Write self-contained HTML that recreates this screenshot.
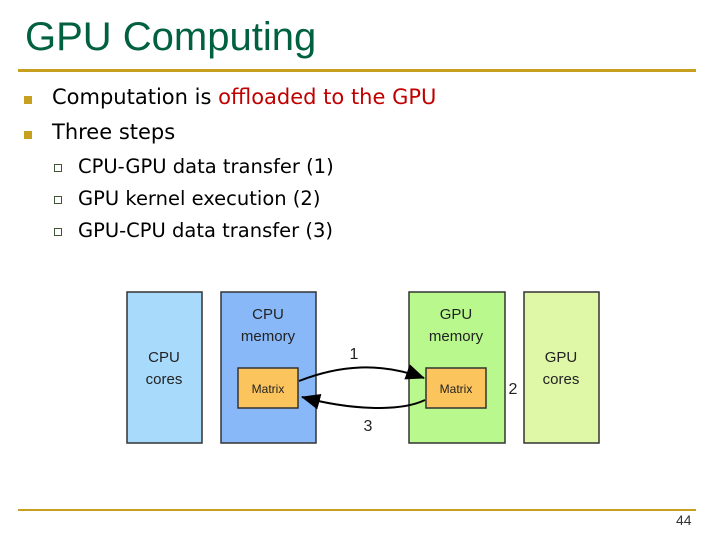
<!DOCTYPE html>
<html><head><meta charset="utf-8"><style>
body{margin:0;width:720px;height:540px;background:#fff;position:relative;overflow:hidden;font-family:"Liberation Sans",sans-serif}
.a{position:absolute;white-space:nowrap}
.t{font-family:"DejaVu Sans",sans-serif}
</style></head><body>
<div class="a" style="left:25px;top:15px;font-size:40px;color:#006040">GPU Computing</div>
<div class="a" style="left:18px;top:69px;width:678px;height:3px;background:#c8a020"></div>
<div class="a" style="left:24px;top:96px;width:8px;height:8px;background:#c8a020"></div>
<div class="a" style="left:24px;top:131px;width:8px;height:8px;background:#c8a020"></div>
<div class="a t" style="left:52px;top:85px;font-size:21px;color:#000">Computation is <span style="color:#c00000">offloaded to the GPU</span></div>
<div class="a t" style="left:52px;top:120px;font-size:21px;color:#000">Three steps</div>
<div class="a t" style="left:78px;top:151px;font-size:19.5px;line-height:32px;color:#000">CPU-GPU data transfer (1)<br>GPU kernel execution (2)<br>GPU-CPU data transfer (3)</div>
<div class="a" style="left:54px;top:164px;width:6px;height:6px;border:1px solid #405830"></div>
<div class="a" style="left:54px;top:196px;width:6px;height:6px;border:1px solid #405830"></div>
<div class="a" style="left:54px;top:228px;width:6px;height:6px;border:1px solid #405830"></div>
<svg class="a" style="left:0;top:0" width="720" height="540" font-family="Liberation Sans, sans-serif">
<defs><marker id="m2" markerWidth="20" markerHeight="16" refX="18" refY="8" orient="auto" markerUnits="userSpaceOnUse"><path d="M0,0L19,8L0,16z" fill="#000"/></marker></defs>
<g stroke="#333" stroke-width="1.5">
<rect x="127" y="292" width="75" height="151" fill="#a8dafc"/>
<rect x="221" y="292" width="95" height="151" fill="#88b8f8"/>
<rect x="409" y="292" width="96" height="151" fill="#b8f88c"/>
<rect x="524" y="292" width="75" height="151" fill="#def8a8"/>
<rect x="238" y="368" width="60" height="40" fill="#fcc45c"/>
<rect x="426" y="368" width="60" height="40" fill="#fcc45c"/>
</g>
<g font-size="15" fill="#222" text-anchor="middle">
<text x="164" y="362">CPU</text><text x="164" y="384">cores</text>
<text x="268" y="319">CPU</text><text x="268" y="341">memory</text>
<text x="456" y="319">GPU</text><text x="456" y="341">memory</text>
<text x="561" y="362">GPU</text><text x="561" y="384">cores</text>
<text x="268" y="393" font-size="12">Matrix</text>
<text x="456" y="393" font-size="12">Matrix</text>
<text x="354" y="359" font-size="16">1</text>
<text x="513" y="394" font-size="16">2</text>
<text x="368" y="431" font-size="16">3</text>
</g>
<path d="M299,381 C340,365 380,362 424,378" fill="none" stroke="#000" stroke-width="2" marker-end="url(#m2)"/>
<path d="M425,400 C400,412 350,410 302,397" fill="none" stroke="#000" stroke-width="2" marker-end="url(#m2)"/>
</svg>
<div class="a" style="left:18px;top:509px;width:678px;height:2px;background:#c8a020"></div>
<div class="a" style="left:676px;top:512px;font-size:14px;color:#333">44</div>
</body></html>
